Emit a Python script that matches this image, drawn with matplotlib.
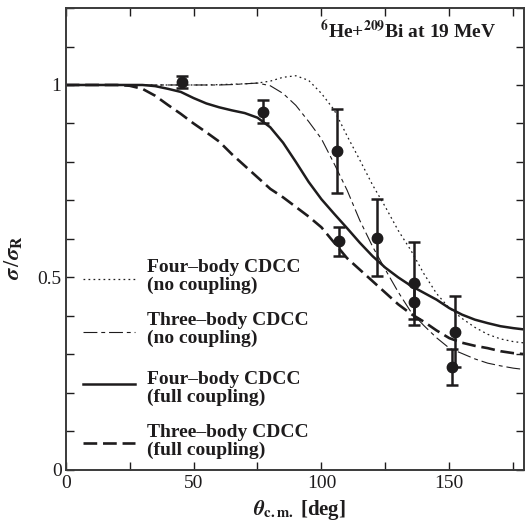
import matplotlib
matplotlib.use('Agg')
import matplotlib.pyplot as plt
from matplotlib.ticker import MultipleLocator, FixedLocator, FixedFormatter

plt.rcParams['font.family'] = 'serif'
plt.rcParams['font.serif'] = ['Liberation Serif', 'DejaVu Serif']
plt.rcParams['mathtext.fontset'] = 'stix'

# theoretical curves
theta = [0, 10, 20, 25, 30, 35, 40, 45, 50, 55, 60, 65, 70, 75, 80, 85, 90, 95,
         100, 105, 110, 115, 120, 125, 130, 135, 140, 145, 150, 155, 160, 165,
         170, 175, 180]
four_nocpl = [1.0, 1.0, 1.0, 1.0, 1.0, 1.0, 1.0, 1.0, 1.0, 1.0, 1.001, 1.002,
              1.003, 1.005, 1.01, 1.02, 1.024, 1.012, 0.978, 0.935, 0.868,
              0.805, 0.74, 0.683, 0.622, 0.57, 0.51, 0.458, 0.42, 0.393, 0.37,
              0.352, 0.34, 0.333, 0.329]
three_nocpl = [1.0, 1.0, 1.0, 1.0, 1.0, 1.0, 1.0, 1.0, 1.0, 1.0, 1.0, 1.001,
               1.003, 1.005, 0.998, 0.978, 0.947, 0.905, 0.86, 0.795, 0.727,
               0.648, 0.58, 0.52, 0.462, 0.41, 0.375, 0.343, 0.316, 0.302,
               0.288, 0.277, 0.27, 0.264, 0.26]
four_full = [1.0, 1.0, 1.0, 1.0, 1.0, 0.997, 0.99, 0.982, 0.966, 0.952, 0.942,
             0.934, 0.927, 0.915, 0.89, 0.85, 0.80, 0.748, 0.703, 0.665, 0.628,
             0.59, 0.555, 0.525, 0.50, 0.478, 0.46, 0.442, 0.42, 0.403, 0.39,
             0.381, 0.373, 0.368, 0.364]
three_full = [1.0, 1.0, 1.0, 0.998, 0.99, 0.972, 0.948, 0.925, 0.9, 0.877,
              0.853, 0.82, 0.79, 0.76, 0.73, 0.708, 0.683, 0.658, 0.63, 0.59,
              0.55, 0.52, 0.49, 0.46, 0.43, 0.405, 0.385, 0.362, 0.342, 0.33,
              0.322, 0.316, 0.308, 0.303, 0.3]

# experimental points
theta_exp = [45.5, 77.2, 106.1, 106.9, 121.9, 136.2, 136.2, 152.1, 151.2]
ratio_exp = [1.008, 0.931, 0.828, 0.594, 0.603, 0.485, 0.437, 0.359, 0.267]
err_exp = [0.016, 0.031, 0.11, 0.038, 0.10, 0.108, 0.046, 0.093, 0.047]

labels = ['Four\u2013body CDCC\n(no coupling)',
          'Three\u2013body CDCC\n(no coupling)',
          'Four\u2013body CDCC\n(full coupling)',
          'Three\u2013body CDCC\n(full coupling)']

xtick_vals = [0, 50, 100, 150]
ytick_vals = [0, 0.5, 1]
ytick_labels = ['0', '0.5', '1']

ink = '#1e1c1d'

fig = plt.figure(figsize=(5.25, 5.25), dpi=100)
ax = fig.add_axes([0.1251, 0.1053, 0.873, 0.8794])

styles = [dict(lw=0.9, dashes=(1.4, 2.6)),
          dict(lw=0.8, dashes=(12.5, 3.5, 3.5, 3.5)),
          dict(lw=1.8, linestyle='-'),
          dict(lw=1.9, dashes=(5.2, 2.2))]
curves = [four_nocpl, three_nocpl, four_full, three_full]

for ys, st in zip(curves, styles):
    ax.plot(theta, ys, color=ink, **st)

ax.errorbar(theta_exp, ratio_exp, yerr=err_exp, fmt='o', color=ink, ms=7.5,
            elinewidth=1.8, capsize=4.5, capthick=1.8, zorder=5)

ax.set_xlim(0, 179.2)
ax.set_ylim(0, 1.2)

ax.xaxis.set_major_locator(FixedLocator(xtick_vals))
ax.xaxis.set_minor_locator(MultipleLocator(25))
ax.yaxis.set_major_locator(FixedLocator(ytick_vals))
ax.yaxis.set_major_formatter(FixedFormatter(ytick_labels))
ax.yaxis.set_minor_locator(MultipleLocator(0.1))
ax.tick_params(which='both', direction='in', top=True, right=True,
               length=6, width=1.0, color=ink, labelsize=14, labelcolor=ink)
ax.tick_params(axis='x', pad=4)
ax.tick_params(axis='y', pad=3)
for s in ax.spines.values():
    s.set_linewidth(1.4)
    s.set_color('#3a3a3a')

ax.set_xlabel(r'$\mathbfit{\theta}_{\mathbf{c.m.}}$ [deg]', fontsize=15,
              fontweight='bold', color=ink)
ax.xaxis.set_label_coords(0.51, -0.062)
ax.set_ylabel(r'$\mathbfit{\sigma}\,/\mathbfit{\sigma}_{\mathbf{R}}$',
              fontsize=16, color=ink)
ax.yaxis.set_label_coords(-0.09, 0.46)

ax.text(0.555, 0.935, r'$^{\mathbf{6}}$He+$^{\mathbf{209}}$Bi at 19 MeV',
        transform=ax.transAxes, fontsize=14, fontweight='bold', color=ink,
        va='baseline')

# hand-placed legend (pixel rows measured on the figure)
line_rows = [278.7, 331.7, 384.3, 443.3]
text_rows = [276.0, 329.5, 388.0, 441.0]
for lab, st, ly, ty in zip(labels, styles, line_rows, text_rows):
    yl = (469.7 - ly) / 461.7
    yt = (469.7 - ty) / 461.7
    ax.plot([0.038, 0.151], [yl, yl], transform=ax.transAxes, color=ink,
            clip_on=False, **st)
    ax.text(0.177, yt, lab, transform=ax.transAxes, fontsize=14,
            fontweight='bold', color=ink, va='center', ha='left',
            linespacing=1.05)

fig.savefig('out.png', dpi=100)
